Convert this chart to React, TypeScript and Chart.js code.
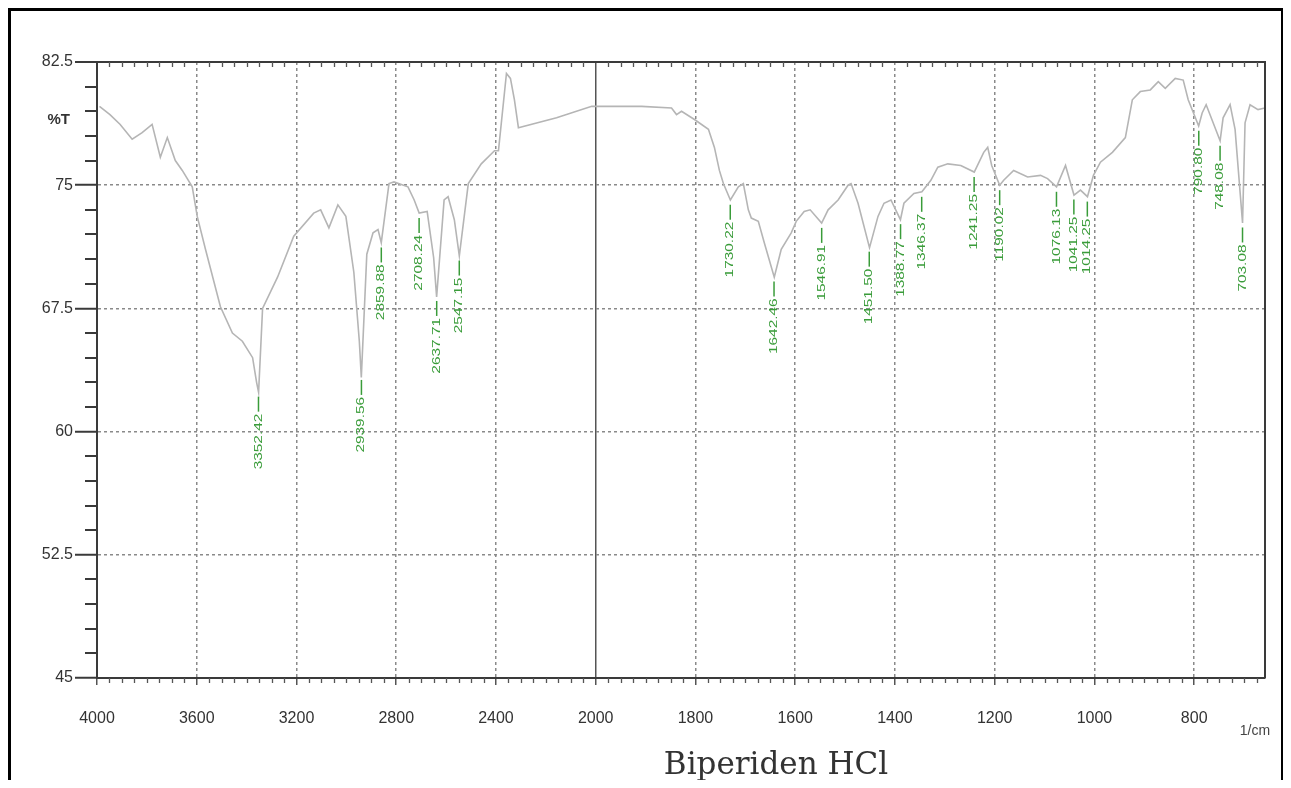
import React, { useEffect, useRef } from "react";
import { Chart, registerables, LinearScale } from "chart.js";

Chart.register(...registerables);

// ---- Data ----
const wavenumbers = [
  3990, 3948, 3907, 3859, 3819, 3779, 3746, 3718, 3686, 3658, 3618, 3598, 3565, 3505, 3457, 3417, 3376, 3360, 3352,
  3336, 3276, 3211, 3131, 3103, 3070, 3034, 3002, 2970, 2948, 2940, 2918, 2893, 2873, 2860, 2829, 2809, 2753, 2728,
  2708, 2676, 2650, 2638, 2608, 2592, 2567, 2547, 2511, 2459, 2406, 2390, 2358, 2342, 2326, 2310, 2157, 2016, 2000,
  1994, 1908, 1848, 1838, 1828, 1802, 1774, 1762, 1752, 1744, 1730, 1714, 1704, 1694, 1688, 1674, 1662, 1642, 1628,
  1608, 1598, 1582, 1570, 1547, 1534, 1514, 1494, 1488, 1474, 1451, 1434, 1422, 1408, 1389, 1382, 1362, 1346, 1328,
  1314, 1294, 1268, 1241, 1222, 1214, 1206, 1190, 1182, 1162, 1134, 1108, 1094, 1076, 1058, 1041, 1028, 1014, 1002,
  988, 964, 938, 924, 908, 888, 872, 858, 838, 822, 812, 791, 784, 776, 762, 748, 742, 728, 718, 703, 698, 688, 672, 658,
];
const transmittance = [
  79.8, 79.3, 78.7, 77.8, 78.2, 78.7, 76.7, 77.9, 76.5, 75.9, 74.9, 73.1, 71.1, 67.6, 66.0, 65.5, 64.5, 63.0, 62.4,
  67.5, 69.4, 71.9, 73.3, 73.5, 72.4, 73.8, 73.1, 69.7, 65.5, 63.3, 70.8, 72.1, 72.3, 71.5, 75.1, 75.2, 74.9, 74.1,
  73.3, 73.4, 70.6, 68.2, 74.1, 74.3, 72.9, 70.7, 75.1, 76.3, 77.1, 77.1, 81.8, 81.5, 80.2, 78.5, 79.1, 79.8, 79.8,
  79.8, 79.8, 79.7, 79.3, 79.5, 79.0, 78.4, 77.3, 75.9, 75.1, 74.1, 74.9, 75.1, 73.5, 73.0, 72.8, 71.5, 69.4, 71.1,
  72.1, 72.8, 73.4, 73.5, 72.7, 73.5, 74.1, 75.0, 75.1, 73.9, 71.2, 73.1, 73.9, 74.1, 72.9, 73.9, 74.5, 74.6, 75.3,
  76.1, 76.3, 76.2, 75.8, 77.0, 77.3, 76.2, 75.0, 75.3, 75.9, 75.5, 75.6, 75.4, 74.9, 76.2, 74.4, 74.7, 74.3, 75.6,
  76.4, 77.0, 77.9, 80.2, 80.7, 80.8, 81.3, 80.9, 81.5, 81.4, 80.2, 78.6, 79.4, 79.9, 78.8, 77.7, 79.1, 79.9, 78.4, 72.7, 78.8, 79.9, 79.6, 79.7,
];
const peakWavenumbers = [
  3352.42, 2939.56, 2859.88, 2708.24, 2637.71, 2547.15, 1730.22, 1642.46, 1546.91, 1451.5, 1388.77, 1346.37, 1241.25,
  1190.02, 1076.13, 1041.25, 1014.25, 790.8, 748.08, 703.08,
];
const xTickValues = [4000, 3600, 3200, 2800, 2400, 2000, 1800, 1600, 1400, 1200, 1000, 800];
const yTickValues = [45, 52.5, 60, 67.5, 75, 82.5];

const X_MAX = 4000;
const X_BREAK = 2000;
const X_MIN = 658;
const Y_MIN = 45;
const Y_MAX = 82.5;
const TITLE = "Biperiden HCl";
const Y_TITLE = "%T";
const X_UNIT = "1/cm";

// wavenumber axis with a scale change at 2000 1/cm (2x expansion below)
function toPos(w: number) {
  return w >= X_BREAK ? (X_MAX - w) / 2 : (X_MAX - X_BREAK) / 2 + (X_BREAK - w);
}
function fromPos(p: number) {
  const b = (X_MAX - X_BREAK) / 2;
  return p <= b ? X_MAX - 2 * p : X_BREAK - (p - b);
}

class BrokenWaveScale extends LinearScale {
  static id = "brokenWave";
  static defaults = LinearScale.defaults;
  getPixelForValue(value: any) {
    if (value === null || value === undefined || isNaN(value)) return NaN;
    return (this as any).getPixelForDecimal(toPos(value) / toPos(X_MIN));
  }
  getValueForPixel(pixel: number) {
    return fromPos((this as any).getDecimalForPixel(pixel) * toPos(X_MIN));
  }
}
Chart.register(BrokenWaveScale as any);

function transmittanceAt(w: number) {
  for (let i = 0; i < wavenumbers.length - 1; i++) {
    const a = wavenumbers[i];
    const b = wavenumbers[i + 1];
    if (w <= a && w >= b) {
      const t = (a - w) / (a - b);
      return transmittance[i] + t * (transmittance[i + 1] - transmittance[i]);
    }
  }
  return transmittance[transmittance.length - 1];
}

const GREEN = "#3a9c3a";
const DARK = "#3a3a3a";

const decorPlugin = {
  id: "decor",
  afterDraw(chart: any) {
    const { ctx, chartArea: a } = chart;
    const xs = chart.scales.x;
    const ys = chart.scales.y;
    ctx.save();
    // frame top & right
    ctx.strokeStyle = DARK;
    ctx.lineWidth = 2;
    ctx.setLineDash([]);
    ctx.beginPath();
    ctx.moveTo(a.left, a.top);
    ctx.lineTo(a.right, a.top);
    ctx.lineTo(a.right, a.bottom);
    ctx.stroke();

    // minor x ticks (bottom outside, top inside)
    const minorX: number[] = [];
    for (let w = X_MAX - 50; w > X_BREAK; w -= 50) if (w % 400 !== 0) minorX.push(w);
    for (let w = X_BREAK - 25; w > X_MIN; w -= 25) if (w % 200 !== 0) minorX.push(w);
    ctx.strokeStyle = "#555";
    ctx.lineWidth = 1.3;
    ctx.beginPath();
    for (const w of minorX) {
      const px = Math.round(xs.getPixelForValue(w)) + 0.5;
      ctx.moveTo(px, a.bottom);
      ctx.lineTo(px, a.bottom + 5);
      ctx.moveTo(px, a.top);
      ctx.lineTo(px, a.top + 5);
    }
    ctx.stroke();

    // minor y ticks
    ctx.strokeStyle = DARK;
    ctx.lineWidth = 2;
    ctx.beginPath();
    for (let k = 1; k < 25; k++) {
      if (k % 5 === 0) continue;
      const v = Y_MIN + k * 1.5;
      const py = Math.round(ys.getPixelForValue(v));
      ctx.moveTo(a.left - 12, py);
      ctx.lineTo(a.left, py);
    }
    ctx.stroke();

    // peak labels
    ctx.strokeStyle = GREEN;
    ctx.fillStyle = GREEN;
    ctx.lineWidth = 1.5;
    ctx.font = "11px 'Liberation Sans', Arial, sans-serif";
    for (const w of peakWavenumbers) {
      const px = xs.getPixelForValue(w);
      const py = ys.getPixelForValue(transmittanceAt(w));
      ctx.beginPath();
      ctx.moveTo(px, py + 5);
      ctx.lineTo(px, py + 20);
      ctx.stroke();
      ctx.save();
      ctx.translate(px, py + 22);
      ctx.rotate(-Math.PI / 2);
      ctx.scale(1.4, 1);
      ctx.textAlign = "right";
      ctx.textBaseline = "middle";
      ctx.fillText(w.toFixed(2), 0, 0);
      ctx.restore();
    }

    // axis captions
    ctx.fillStyle = "#333";
    ctx.font = "bold 15px 'Liberation Sans', Arial, sans-serif";
    ctx.textAlign = "right";
    ctx.textBaseline = "middle";
    ctx.fillText(Y_TITLE, a.left - 27, ys.getPixelForValue(79));
    ctx.font = "14px 'Liberation Sans', Arial, sans-serif";
    ctx.textAlign = "center";
    ctx.fillStyle = "#444";
    ctx.fillText(X_UNIT, a.right - 10, a.bottom + 53);
    ctx.restore();
  },
};

export default function App() {
  const ref = useRef<HTMLCanvasElement | null>(null);
  useEffect(() => {
    document.documentElement.style.overflow = "hidden";
    if (!ref.current) return;
    const tickFont = { family: "'Liberation Sans', Arial, sans-serif", size: 16 };
    const chart = new Chart(ref.current, {
      type: "line",
      data: {
        datasets: [
          {
            data: wavenumbers.map((w, i) => ({ x: w, y: transmittance[i] })),
            borderColor: "#b5b5b5",
            borderWidth: 1.6,
            pointRadius: 0,
            tension: 0,
            fill: false,
          },
        ],
      },
      options: {
        animation: false,
        responsive: false,
        devicePixelRatio: 1,
        layout: { padding: { left: 0, right: 18, top: 54, bottom: 0 } },
        plugins: { legend: { display: false }, tooltip: { enabled: false }, title: { display: false } },
        scales: {
          x: {
            type: "brokenWave" as any,
            min: X_MIN,
            max: X_MAX,
            afterBuildTicks: (s: any) => {
              s.ticks = xTickValues.map((v) => ({ value: v }));
            },
            afterFit: (s: any) => {
              s.height = 110;
            },
            ticks: {
              autoSkip: false,
              maxRotation: 0,
              padding: 24,
              color: "#333",
              font: tickFont,
              callback: (v: any) => String(v),
            },
            grid: {
              color: (c: any) => (c.tick && c.tick.value === X_BREAK ? "#555" : "#8a8a8a"),
              lineWidth: 1.5,
              drawTicks: true,
              tickLength: 7,
              tickColor: "#555",
              tickWidth: 1.5,
            },
            border: {
              display: true,
              color: DARK,
              width: 2,
              dash: (c: any) => (c.tick && c.tick.value === X_BREAK ? [] : [3, 3]),
            },
          } as any,
          y: {
            min: Y_MIN,
            max: Y_MAX,
            afterBuildTicks: (s: any) => {
              s.ticks = yTickValues.map((v) => ({ value: v }));
            },
            afterFit: (s: any) => {
              s.width = 89;
            },
            ticks: { padding: 2, color: "#333", font: tickFont, callback: (v: any) => String(v) },
            grid: {
              color: (c: any) => (c.tick && c.tick.value === Y_MAX ? DARK : "#8a8a8a"),
              lineWidth: (c: any) => (c.tick && c.tick.value === Y_MAX ? 2 : 1.5),
              drawTicks: true,
              tickLength: 22,
              tickColor: DARK,
              tickWidth: 2,
            },
            border: {
              display: true,
              color: DARK,
              width: 2,
              dash: (c: any) => (c.tick && (c.tick.value === Y_MAX || c.tick.value === Y_MIN) ? [] : [3, 3]),
            },
          } as any,
        },
      },
      plugins: [decorPlugin],
    });
    return () => chart.destroy();
  }, []);

  return (
    <div style={{ position: "relative", width: 1276, height: 780, marginBottom: -8 }}>
      <canvas ref={ref} width={1275} height={780} style={{ position: "absolute", left: 0, top: 0, width: 1275, height: 780 }} />
      <div
        style={{
          position: "absolute",
          left: 0,
          top: 0,
          width: 1270,
          height: 800,
          borderLeft: "3px solid #000",
          borderTop: "3px solid #000",
          borderRight: "3px solid #000",
          pointerEvents: "none",
        }}
      />
      <div
        style={{
          position: "absolute",
          left: 768,
          top: 737,
          transform: "translateX(-50%)",
          whiteSpace: "nowrap",
          fontFamily: "'DejaVu Serif', serif",
          fontSize: 31,
          lineHeight: "36px",
          color: "#333",
        }}
      >
        {TITLE}
      </div>
    </div>
  );
}
